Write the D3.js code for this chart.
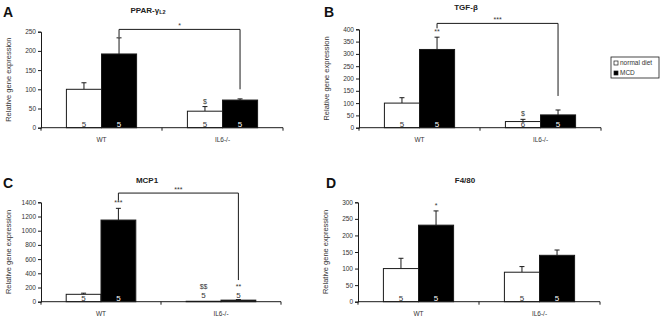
<!DOCTYPE html>
<html>
<head>
<meta charset="utf-8">
<script src="https://cdn.jsdelivr.net/npm/d3@7"></script>
<style>
  body { margin: 0; background: #fff; }
  svg { display: block; font-family: "Liberation Sans", Arial, sans-serif; }
</style>
</head>
<body>
<div id="chart"></div>
<script>
// groups and diets
var groups      = ["WT", "IL6-/-"];
var diets       = ["normal diet", "MCD"];

// A - PPAR-gamma L2
var ppar_normal     = [100, 43];
var ppar_normal_err = [17, 12];
var ppar_mcd        = [192, 72];
var ppar_mcd_err    = [42, 3];
var ppar_n          = [[5, 5], [5, 5]];
var ppar_ticks      = [0, 50, 100, 150, 200, 250];

// B - TGF-beta
var tgf_normal      = [100, 25];
var tgf_normal_err  = [22, 9];
var tgf_mcd         = [318, 52];
var tgf_mcd_err     = [50, 20];
var tgf_n           = [[5, 5], [6, 5]];
var tgf_ticks       = [0, 50, 100, 150, 200, 250, 300, 350, 400];

// C - MCP1
var mcp_normal      = [104, 6];
var mcp_normal_err  = [16, 0];
var mcp_mcd         = [1150, 22];
var mcp_mcd_err     = [165, 8];
var mcp_n           = [[5, 5], [5, 5]];
var mcp_ticks       = [0, 200, 400, 600, 800, 1000, 1200, 1400];

// D - F4/80
var f480_normal     = [100, 89];
var f480_normal_err = [31, 17];
var f480_mcd        = [231, 140];
var f480_mcd_err    = [43, 16];
var f480_n          = [[5, 5], [5, 5]];
var f480_ticks      = [0, 50, 100, 150, 200, 250, 300];

// --------------------------------------------------------

var chart_width  = 661;
var chart_height = 318;

var svg = d3.select("#chart")
  .append("svg")
  .attr("width", chart_width)
  .attr("height", chart_height);

var ink = "#1a1a1a";

// panel layout (pixel boxes of the plot area)
var panels = [
  { letter: "A", title: ["PPAR-\u03b3", "L2"], normal: ppar_normal, nerr: ppar_normal_err,
    mcd: ppar_mcd, merr: ppar_mcd_err, n: ppar_n, ticks: ppar_ticks,
    x0: 41, x1: 283, top: 31.7, bottom: 127.7, lx: 3, ly: 17,
    marks: [["", ""], ["$", ""]], bracket: { top: 256, left: 236, right: 100, label: "*" },
    nAbove: false },
  { letter: "B", title: ["TGF-\u03b2"], normal: tgf_normal, nerr: tgf_normal_err,
    mcd: tgf_mcd, merr: tgf_mcd_err, n: tgf_n, ticks: tgf_ticks,
    x0: 359, x1: 601, top: 29.3, bottom: 127.7, lx: 324, ly: 17,
    marks: [["", "**"], ["$", ""]], bracket: { top: 424, left: 404, right: 129, label: "***" },
    nAbove: false },
  { letter: "C", title: ["MCP1"], normal: mcp_normal, nerr: mcp_normal_err,
    mcd: mcp_mcd, merr: mcp_mcd_err, n: mcp_n, ticks: mcp_ticks,
    x0: 41, x1: 281, top: 202.3, bottom: 301.7, lx: 3, ly: 188,
    marks: [["", "***"], ["$$", "**"]], bracket: { top: 1530, left: 1425, right: 305, label: "***" },
    nAbove: true },
  { letter: "D", title: ["F4/80"], normal: f480_normal, nerr: f480_normal_err,
    mcd: f480_mcd, merr: f480_mcd_err, n: f480_n, ticks: f480_ticks,
    x0: 358, x1: 600, top: 202.3, bottom: 301.7, lx: 326, ly: 188,
    marks: [["", "*"], ["", ""]], bracket: null,
    nAbove: false }
];

panels.forEach(function (p) {
  var g = svg.append("g");

  var x = d3.scaleBand()
    .domain(groups)
    .range([p.x0, p.x1])
    .paddingInner(0.42)
    .paddingOuter(0.21);

  var xd = d3.scaleBand()
    .domain(diets)
    .range([0, x.bandwidth()]);

  var y = d3.scaleLinear()
    .domain([0, d3.max(p.ticks)])
    .range([p.bottom, p.top]);

  // rows: one per bar
  var rows = [];
  groups.forEach(function (grp, i) {
    rows.push({ grp: grp, diet: diets[0], v: p.normal[i], e: p.nerr[i], n: p.n[i][0], mark: p.marks[i][0] });
    rows.push({ grp: grp, diet: diets[1], v: p.mcd[i], e: p.merr[i], n: p.n[i][1], mark: p.marks[i][1] });
  });
  var cx = function (d) { return x(d.grp) + xd(d.diet) + xd.bandwidth() / 2; };

  // error bars (upper only)
  g.selectAll(".err").data(rows.filter(function (d) { return d.e > 0; }))
    .enter().append("g")
    .each(function (d) {
      var s = d3.select(this);
      s.append("line")
        .attr("x1", cx(d)).attr("x2", cx(d))
        .attr("y1", y(d.v)).attr("y2", y(d.v + d.e))
        .attr("stroke", ink).attr("stroke-width", 1);
      s.append("line")
        .attr("x1", cx(d) - 2.5).attr("x2", cx(d) + 2.5)
        .attr("y1", y(d.v + d.e)).attr("y2", y(d.v + d.e))
        .attr("stroke", ink).attr("stroke-width", 1);
    });

  // bars
  g.selectAll(".bar").data(rows)
    .enter().append("rect")
    .attr("x", function (d) { return x(d.grp) + xd(d.diet); })
    .attr("y", function (d) { return y(d.v); })
    .attr("width", xd.bandwidth())
    .attr("height", function (d) { return y(0) - y(d.v); })
    .attr("fill", function (d) { return d.diet === "MCD" ? "#000" : "#fff"; })
    .attr("stroke", ink)
    .attr("stroke-width", 1);

  // n labels
  g.selectAll(".n").data(rows)
    .enter().append("text")
    .attr("x", cx)
    .attr("y", function (d) { return p.nAbove && d.grp === groups[1] ? y(0) - 4 : y(0) - 1; })
    .attr("text-anchor", "middle")
    .attr("font-size", 8)
    .attr("fill", function (d) {
      if (p.nAbove && d.grp === groups[1]) return "#333";
      return d.diet === "MCD" && y(0) - y(d.v) > 8 ? "#fff" : "#333";
    })
    .text(function (d) { return d.n; });

  // significance marks above bars
  g.selectAll(".mark").data(rows.filter(function (d) { return d.mark; }))
    .enter().append("text")
    .attr("x", cx)
    .attr("y", function (d) {
      if (p.nAbove && d.grp === groups[1]) return y(0) - 13;
      return y(d.v + d.e) - 3;
    })
    .attr("text-anchor", "middle")
    .attr("font-size", 7)
    .attr("fill", "#333")
    .text(function (d) { return d.mark; });

  // bracket between WT MCD and IL6 MCD
  if (p.bracket) {
    var b = p.bracket;
    var xl = x(groups[0]) + xd(diets[1]) + xd.bandwidth() / 2;
    var xr = x(groups[1]) + xd(diets[1]) + xd.bandwidth() / 2;
    g.append("path")
      .attr("d", "M" + xl + "," + y(b.left) + "V" + y(b.top) + "H" + xr + "V" + y(b.right))
      .attr("fill", "none")
      .attr("stroke", ink)
      .attr("stroke-width", 1);
    g.append("text")
      .attr("x", (xl + xr) / 2)
      .attr("y", y(b.top) - 1)
      .attr("text-anchor", "middle")
      .attr("font-size", 7)
      .attr("fill", "#333")
      .text(b.label);
  }

  // y axis
  var yAxis = g.append("g")
    .attr("transform", "translate(" + p.x0 + ",0)")
    .call(d3.axisLeft(y).tickValues(p.ticks).tickFormat(d3.format("d")).tickSize(3).tickPadding(2));
  yAxis.select(".domain").attr("stroke", ink);
  yAxis.selectAll(".tick line").attr("stroke", ink);
  yAxis.selectAll(".tick text").attr("font-size", 6.5).attr("fill", "#333")
    .attr("font-family", "Liberation Sans, Arial, sans-serif");

  // x axis: ticks at category boundaries
  var xb = [p.x0, (x(groups[0]) + x.bandwidth() + x(groups[1])) / 2, p.x1];
  g.append("line")
    .attr("x1", p.x0).attr("x2", p.x1)
    .attr("y1", y(0)).attr("y2", y(0))
    .attr("stroke", ink);
  g.selectAll(".xt").data(xb).enter().append("line")
    .attr("x1", function (d) { return d; }).attr("x2", function (d) { return d; })
    .attr("y1", y(0)).attr("y2", y(0) + 3)
    .attr("stroke", ink);
  g.selectAll(".xl").data(groups).enter().append("text")
    .attr("x", function (d) { return x(d) + x.bandwidth() / 2; })
    .attr("y", y(0) + 14)
    .attr("text-anchor", "middle")
    .attr("font-size", 6.5)
    .attr("fill", "#333")
    .text(function (d) { return d; });

  // y axis label
  g.append("text")
    .attr("transform", "translate(" + (p.x0 - 30) + "," + ((p.top + p.bottom) / 2) + ") rotate(-90)")
    .attr("text-anchor", "middle")
    .attr("font-size", 7.5)
    .attr("fill", "#333")
    .text("Relative gene expression");

  // title
  var t = g.append("text")
    .attr("x", (p.x0 + p.x1) / 2 - 14)
    .attr("y", p.top - 19)
    .attr("text-anchor", "middle")
    .attr("font-size", 8)
    .attr("font-weight", "bold")
    .attr("fill", "#222");
  t.append("tspan").text(p.title[0]);
  if (p.title[1]) {
    t.append("tspan").attr("font-size", 5.5).attr("dy", 1.5).text(p.title[1]);
  }

  // panel letter
  g.append("text")
    .attr("x", p.lx)
    .attr("y", p.ly)
    .attr("font-size", 14)
    .attr("font-weight", "bold")
    .attr("fill", "#111")
    .text(p.letter);
});

// legend
var legend = svg.append("g").attr("transform", "translate(611,57)");
legend.append("rect")
  .attr("width", 48).attr("height", 21)
  .attr("fill", "#fff").attr("stroke", ink).attr("stroke-width", 0.8);
legend.selectAll(".li").data(diets).enter().append("g")
  .attr("transform", function (d, i) { return "translate(3," + (6 + i * 10) + ")"; })
  .each(function (d) {
    var s = d3.select(this);
    s.append("rect")
      .attr("x", 0).attr("y", -2).attr("width", 4).attr("height", 4)
      .attr("fill", d === "MCD" ? "#000" : "#fff")
      .attr("stroke", ink).attr("stroke-width", 0.7);
    s.append("text")
      .attr("x", 6).attr("y", 2.3)
      .attr("font-size", 6.5)
      .attr("fill", "#333")
      .text(d);
  });
</script>
</body>
</html>
